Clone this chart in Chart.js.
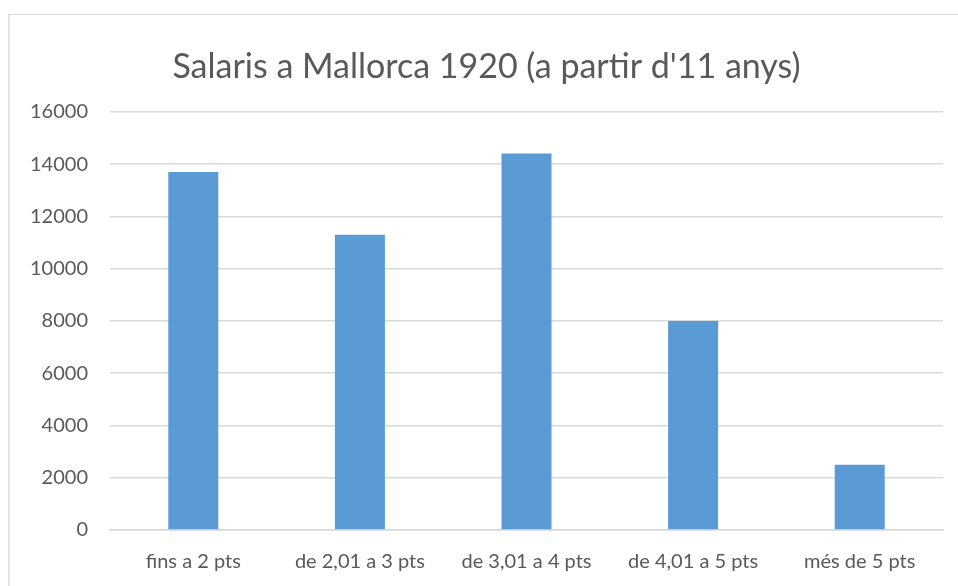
<!DOCTYPE html>
<html>
<head>
<meta charset="utf-8">
<script src="https://cdn.jsdelivr.net/npm/chart.js@4.4.0/dist/chart.umd.min.js"></script>
<style>
  html, body { margin: 0; padding: 0; background: #fff; overflow: hidden; }
  #wrap { position: relative; width: 958px; height: 586px; overflow: hidden; }
  #frame { position: absolute; left: 8px; top: 14px; right: -10px; bottom: -10px;
           border-top: 1px solid #d9d9d9; border-left: 2px solid #e3e3e3; }
  canvas { position: absolute; left: 0; top: 0; }
</style>
</head>
<body>
<div id="wrap">
  <div id="frame"></div>
  <canvas id="grafico" width="980" height="594"></canvas>
</div>
<script>
const titol = "Salaris a Mallorca 1920 (a partir d'11 anys)";
const categories = ['fins a 2 pts', 'de 2,01 a 3 pts', 'de 3,01 a 4 pts', 'de 4,01 a 5 pts', 'més de 5 pts'];
const salaris = [13700, 11300, 14400, 8000, 2500];
const yTicks = [0, 2000, 4000, 6000, 8000, 10000, 12000, 14000, 16000];

const gris = '#595959';

const ctx = document.getElementById('grafico').getContext('2d');
new Chart(ctx, {
  type: 'bar',
  data: {
    labels: categories,
    datasets: [{
      label: 'Salaris',
      data: salaris,
      backgroundColor: '#5b9bd5',
      borderWidth: 0,
      barPercentage: 0.6,
      categoryPercentage: 0.5
    }]
  },
  options: {
    responsive: false,
    animation: false,
    layout: {
      padding: { top: 14, left: 30, right: 37, bottom: 0 }
    },
    plugins: {
      legend: { display: false },
      tooltip: { enabled: false },
      title: {
        display: true,
        text: titol,
        color: gris,
        font: { family: 'Lato', size: 34, weight: 'normal' },
        padding: { top: 33, bottom: 24 }
      }
    },
    scales: {
      y: {
        min: yTicks[0],
        max: yTicks[yTicks.length - 1],
        afterFit: scale => { scale.width = 80; },
        afterBuildTicks: scale => { scale.ticks = yTicks.map(v => ({ value: v })); },
        ticks: {
          color: gris,
          padding: 22,
          font: { family: 'Lato', size: 20 },
          callback: v => String(v)
        },
        grid: { color: '#d9d9d9', lineWidth: 1.5, drawTicks: false },
        border: { display: false }
      },
      x: {
        ticks: {
          color: gris,
          padding: 20,
          font: { family: 'Lato', size: 20 }
        },
        grid: { display: false, drawTicks: false },
        border: { color: '#d9d9d9', width: 1.5 }
      }
    }
  }
});
</script>
</body>
</html>
